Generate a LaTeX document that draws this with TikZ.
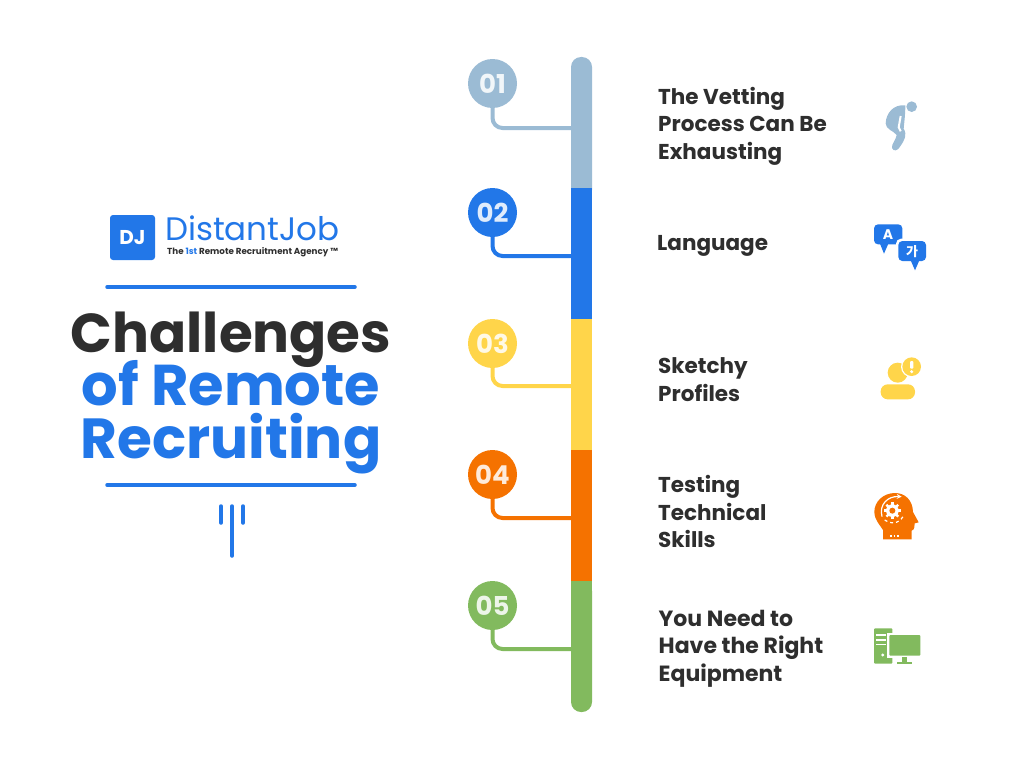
\documentclass[tikz,border=0pt]{standalone}
\usepackage{fontspec}
\setmainfont{Poppins}
\newfontfamily\krfont{Noto Sans CJK KR}
\usepackage{tikz}

\definecolor{c_sky}{HTML}{9BBBD4}
\definecolor{c_blue}{HTML}{2277E8}
\definecolor{c_yellow}{HTML}{FFD54A}
\definecolor{c_orange}{HTML}{F57200}
\definecolor{c_green}{HTML}{82BA5E}
\definecolor{c_dark}{HTML}{2E2E2E}

\begin{document}
\begin{tikzpicture}[x=1pt,y=-1pt,
	num_node/.style={circle,fill=#1,text=#1!14!white,minimum size=49pt,inner sep=0pt,font=\fontsize{26}{26}\selectfont\bfseries},
	link_line/.style={draw=#1,line width=4pt,rounded corners=10pt},
	item_text/.style={anchor=west,align=left,inner sep=0pt,text=c_dark,font=\fontsize{21.5}{27.5}\selectfont\bfseries},
	title_line/.style={anchor=base,inner sep=0pt,font=\fontsize{56.5}{57}\selectfont\bfseries},
	rule_line/.style={c_blue,line width=3.5pt,line cap=round}]
	\useasboundingbox (0,0) rectangle (1024,768);

	% logo and title
	\fill[c_blue,rounded corners=3pt] (110,215) rectangle (155,260);
	\node[inner sep=0pt,text=white,font=\fontsize{20}{20}\selectfont\bfseries] (logo_mark) at (132.5,237.5) {DJ};
	\node[anchor=base west,inner sep=0pt,text=c_blue,font=\fontsize{32.5}{32.5}\selectfont] (logo_name) at (165,240) {DistantJob};
	\node[anchor=base west,inner sep=0pt,text=c_dark,font=\fontsize{8.75}{9}\selectfont\bfseries] (logo_tag) at (167,254) {The \textcolor{c_blue}{1st} Remote Recruitment Agency ™};
	\draw[rule_line] (107,287) -- (355,287);
	\node[title_line,text=c_dark,font=\fontsize{54.8}{57}\selectfont\bfseries] (title_a) at (231,352) {Challenges};
	\node[title_line,text=c_blue,font=\fontsize{57.5}{57}\selectfont\bfseries] (title_b) at (231,405) {of Remote};
	\node[title_line,text=c_blue] (title_c) at (231,458) {Recruiting};
	\draw[rule_line] (107,485) -- (355,485);
	\draw[c_blue,line width=3.5pt,line cap=round] (221,506) -- (221,523);
	\draw[c_blue,line width=3.5pt,line cap=round] (232,506) -- (232,556);
	\draw[c_blue,line width=3.5pt,line cap=round] (243,506) -- (243,523);

	% timeline bar
	\fill[c_sky,rounded corners=10pt] (571,200) -- (571,57) -- (592,57) -- (592,200) -- cycle;
	\fill[c_blue] (571,188) rectangle (592,319);
	\fill[c_yellow] (571,319) rectangle (592,450);
	\fill[c_orange] (571,450) rectangle (592,581);
	\fill[c_green,rounded corners=10pt] (571,581) -- (571,712) -- (592,712) -- (592,581) -- cycle;
	\fill[c_green] (571,581) rectangle (592,600);

	\coordinate (end_a) at (572,128);
	\coordinate (end_b) at (572,256);
	\coordinate (end_c) at (572,386);
	\coordinate (end_d) at (572,518);
	\coordinate (end_e) at (572,649);

	\node[num_node=c_sky] (num_a) at (492.5,83.5) {01};
	\node[num_node=c_blue] (num_b) at (492.5,212.5) {02};
	\node[num_node=c_yellow] (num_c) at (492.5,343.5) {03};
	\node[num_node=c_orange] (num_d) at (492.5,474.5) {04};
	\node[num_node=c_green] (num_e) at (492.5,605.5) {05};

	\draw[link_line=c_sky] (num_a.south) |- (end_a);
	\draw[link_line=c_blue] (num_b.south) |- (end_b);
	\draw[link_line=c_yellow] (num_c.south) |- (end_c);
	\draw[link_line=c_orange] (num_d.south) |- (end_d);
	\draw[link_line=c_green] (num_e.south) |- (end_e);

	% items
	\node[item_text] (item_a) at (658,126) {The Vetting\\Process Can Be\\Exhausting};
	\node[item_text] (item_b) at (657,245.5) {Language};
	\node[item_text] (item_c) at (658,379.5) {Sketchy\\Profiles};
	\node[item_text] (item_d) at (658,511.5) {Testing\\Technical\\Skills};
	\node[item_text,font=\fontsize{22}{27.5}\selectfont\bfseries] (item_e) at (658.5,648.5) {You Need to\\Have the Right\\Equipment};

	% icon: tired figure
	\begin{scope}[shift={(860,90)},scale=1/3]
		\fill[c_sky] (155,50) circle (16);
		\fill[c_sky] (136,46) .. controls (100,42) and (78,70) .. (77,100) .. controls (77,118) and (100,122) .. (110,135)
			.. controls (108,150) and (94,162) .. (96,174) .. controls (100,186) and (114,182) .. (120,170)
			.. controls (134,150) and (142,135) .. (131,116) .. controls (133,95) and (136,70) .. (136,46) -- cycle;
		\draw[white,line width=2pt] (122,78) -- (116,112) -- (122,124);
	\end{scope}

	% icon: speech bubbles
	\begin{scope}[shift={(860,215)},scale=1/3]
		\fill[c_blue,rounded corners=4pt] (42,28) rectangle (127,88);
		\fill[c_blue] (60,86) -- (72,116) -- (85,86) -- cycle;
		\node[inner sep=0pt,text=white,font=\fontsize{14}{14}\selectfont\bfseries] (lang_a) at (84,60) {A};
		\fill[white,rounded corners=5pt] (108,71) rectangle (205,145);
		\fill[c_blue,rounded corners=4pt] (115,78) rectangle (198,138);
		\fill[c_blue] (152,136) -- (165,166) -- (178,136) -- cycle;
		\node[inner sep=0pt,text=white,font=\krfont\fontsize{13}{13}\selectfont\bfseries] (lang_b) at (156,109) {가};
	\end{scope}

	% icon: profile with warning
	\begin{scope}[shift={(860,350)},scale=1/3]
		\fill[c_yellow] (113,68) circle (30);
		\fill[white] (155,50) circle (32);
		\fill[c_yellow] (155,50) circle (28);
		\fill[white,rounded corners=1pt] (150,33) rectangle (160,56);
		\fill[white] (155,65) circle (5);
		\fill[c_yellow,rounded corners=7pt] (62,103) rectangle (165,148);
	\end{scope}

	% icon: head with gear
	\begin{scope}[shift={(860,480)},scale=1/3]
		\fill[c_orange] (105,39) .. controls (70,39) and (43,65) .. (43,95) .. controls (43,120) and (60,135) .. (69,150) -- (69,178) -- (155,178) -- (155,152)
			.. controls (165,150) and (163,135) .. (164,130) -- (176,127) -- (159,96) .. controls (158,60) and (135,39) .. (105,39) -- cycle;
		\fill[white] (97,92) circle (19);
		\foreach \ang in {0,45,...,315}
			\draw[white,line width=2.4pt] (97,92) -- ++(\ang:25);
		\fill[c_orange] (97,92) circle (9);
		\draw[white,line width=1.2pt,-stealth] (66,110) .. controls (56,72) and (85,48) .. (125,50);
		\draw[white,line width=1.2pt,dashed] (74,120) .. controls (90,134) and (115,132) .. (129,110);
		\draw[white,line width=1.5pt,dotted] (90,168) -- (118,168);
	\end{scope}

	% icon: computer
	\begin{scope}[shift={(860,615)},scale=1/3]
		\fill[c_green,rounded corners=1pt] (42,40) rectangle (97,146);
		\draw[white,line width=1.2pt] (48,60) -- (78,60);
		\draw[white,line width=1.2pt] (48,75) -- (78,75);
		\draw[white,line width=1.2pt] (48,89) -- (78,89);
		\fill[white] (68,120) circle (5);
		\fill[white] (81,54) rectangle (190,128);
		\fill[c_green,rounded corners=1pt] (88,60) rectangle (181,122);
		\fill[c_green] (126,127) rectangle (142,140);
		\fill[c_green] (110,140) rectangle (157,146);
	\end{scope}
\end{tikzpicture}
\end{document}
